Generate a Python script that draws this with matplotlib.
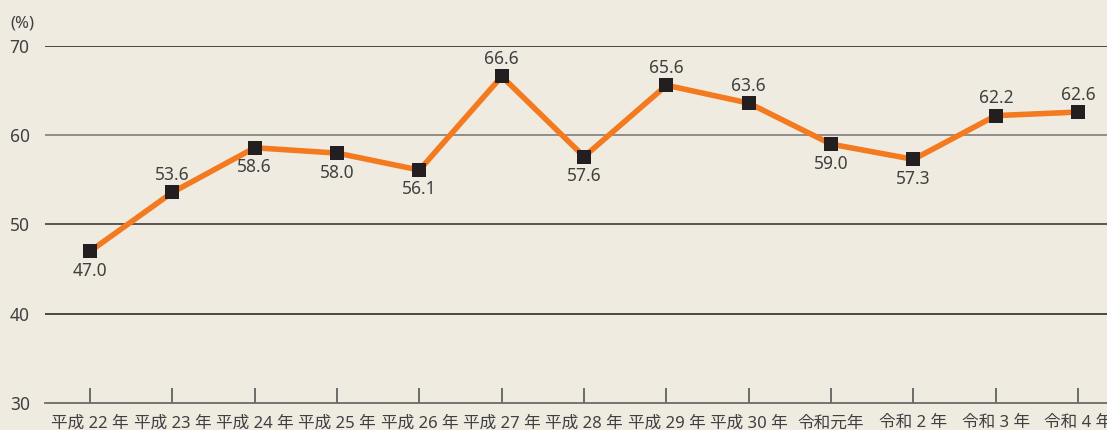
import matplotlib
matplotlib.use('Agg')
import matplotlib.pyplot as plt

plt.rcParams['font.family'] = ['Noto Sans', 'Noto Sans CJK JP', 'DejaVu Sans']

# data
years = ['平成 22 年', '平成 23 年', '平成 24 年', '平成 25 年', '平成 26 年',
         '平成 27 年', '平成 28 年', '平成 29 年', '平成 30 年', '令和元年',
         '令和 2 年', '令和 3 年', '令和 4 年']
rates = [47.0, 53.6, 58.6, 58.0, 56.1, 66.6, 57.6, 65.6, 63.6, 59.0,
         57.3, 62.2, 62.6]
label_above = [False, True, False, False, False, True, False, True, True,
               False, False, True, True]
y_ticks = [30, 40, 50, 60, 70]

bg = '#efebe1'
txt = '#404040'

fig = plt.figure(figsize=(11.07, 4.30), dpi=100, facecolor=bg)
ax = fig.add_axes([45 / 1107, (430 - 403) / 430, 1062 / 1107, 357 / 430])
ax.set_facecolor(bg)

x = list(range(len(years)))

# grid lines
grid_colors = {40: '#3a3a3a', 50: '#4a4a4a', 60: '#8a8680', 70: '#3a3a3a'}
for v, c in grid_colors.items():
    ax.axhline(v, color=c, lw=1.3, zorder=1)

ax.plot(x, rates, color='#f47a20', lw=4, zorder=2,
        marker='s', markersize=10.5, markerfacecolor='#231f20',
        markeredgecolor='#231f20', markeredgewidth=0)

for xi, r, up in zip(x, rates, label_above):
    if up:
        ax.annotate(f'{r:.1f}', (xi, r), xytext=(0, 6), textcoords='offset points',
                    ha='center', va='bottom', fontsize=12.5, color=txt)
    else:
        ax.annotate(f'{r:.1f}', (xi, r), xytext=(0, -7.5), textcoords='offset points',
                    ha='center', va='top', fontsize=12.5, color=txt)

ax.set_xlim(-0.547, 12.35)
ax.set_ylim(30, 70)
ax.set_yticks(y_ticks)
ax.set_yticklabels([str(v) for v in y_ticks], fontsize=12.5, color=txt)
ax.set_xticks(x)
ax.set_xticklabels(years, fontsize=12, color=txt)

for s in ['top', 'right', 'left']:
    ax.spines[s].set_visible(False)
ax.spines['bottom'].set_color('#6b6b6b')
ax.spines['bottom'].set_linewidth(1.3)

ax.tick_params(axis='x', direction='in', length=11, width=1.2,
               color='#555555', pad=9)
ax.tick_params(axis='y', length=0, pad=11)

fig.text(10 / 1107, 1 - 23 / 430, '(%)', fontsize=12, color=txt,
         ha='left', va='center')

plt.savefig('out.png', dpi=100, facecolor=bg)
plt.close()
